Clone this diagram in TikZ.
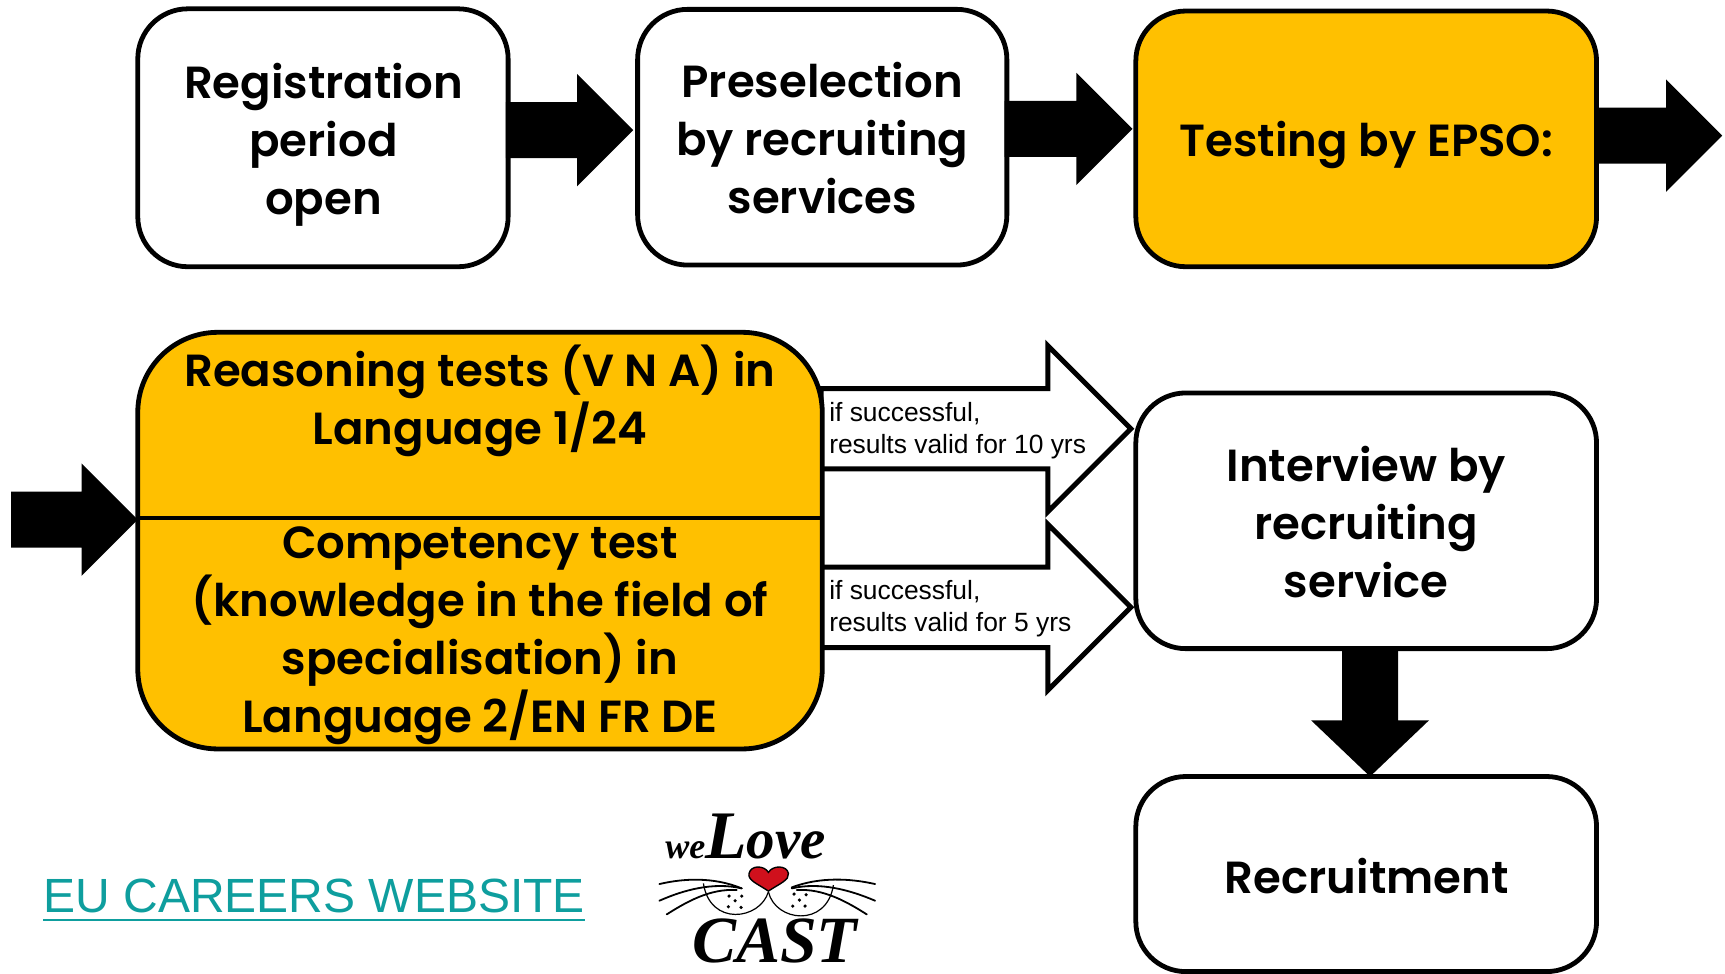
\documentclass[tikz,border=0pt]{standalone}
\usepackage{fontspec}
\usetikzlibrary{calc}
\setmainfont{Liberation Sans}
\newfontfamily\headfont{Poppins}[UprightFont=*-SemiBold,BoldFont=*-Bold]
\newfontfamily\logofont{Liberation Serif}
\definecolor{amber}{HTML}{FFC000}
\definecolor{linkteal}{HTML}{0E9E9E}
\definecolor{heartred}{HTML}{D0101C}
\tikzset{
  boxsize/.style 2 args={minimum width=#1*0.5511pt,minimum height=#2*0.5511pt},
  flowbox/.style={draw=black,line width=2.4pt,rounded corners=25pt,fill=white,inner sep=0pt,outer sep=0pt},
  ambbox/.style={flowbox,fill=amber},
  headtext/.style={font=\headfont\fontsize{22.5}{29}\selectfont,align=center,inner sep=0pt,text=black},
  smalltext/.style={font=\fontsize{13.2}{16}\selectfont,align=left,inner sep=0pt,anchor=west,text=black},
  solidarrow/.style={fill=black},
  hollowarrow/.style={draw=black,fill=white,line width=2.5pt,miter limit=10},
  whisker/.style={draw=black,line width=0.9pt,line cap=round},
  muzzle/.style={draw=black,line width=0.6pt},
  dotmark/.style={fill=black}
}
% style, start, tip, shaft half width, head half width, head length (pt)
\newcommand\rightblock[6]{\path[#1] let \p1=(#2),\p2=(#3) in
  (\x1,\y1+#4pt) -- (\x2-#6pt,\y1+#4pt) -- (\x2-#6pt,\y1+#5pt) -- (\x2,\y1) --
  (\x2-#6pt,\y1-#5pt) -- (\x2-#6pt,\y1-#4pt) -- (\x1,\y1-#4pt) -- cycle;}
\newcommand\downblock[6]{\path[#1] let \p1=(#2),\p2=(#3) in
  (\x1+#4pt,\y1) -- (\x1+#4pt,\y2+#6pt) -- (\x1+#5pt,\y2+#6pt) -- (\x1,\y2) --
  (\x1-#5pt,\y2+#6pt) -- (\x1-#4pt,\y2+#6pt) -- (\x1-#4pt,\y1) -- cycle;}
\begin{document}
\begin{tikzpicture}[x=0.5511pt,y=-0.5511pt]
\useasboundingbox[fill=white] (0,0) rectangle (1565.05,882.85);

% boxes
\node[flowbox,boxsize={336}{234}] (reg) at (293,125) {};
\node[flowbox,boxsize={335}{232}] (pre) at (746,124.5) {};
\node[ambbox,boxsize={418}{232}] (epso) at (1239.5,126) {};
\node[flowbox,boxsize={418}{232}] (int) at (1239.5,472.5) {};
\node[flowbox,boxsize={418}{177}] (rec) at (1239.5,793) {};

% hollow arrows
\coordinate (bigE) at (745,490.5);
\coordinate (tipA) at (1026,389);
\coordinate (tipB) at (1026,551);
\rightblock{hollowarrow}{bigE|-tipA}{tipA}{20.1}{41.5}{41.5}
\rightblock{hollowarrow}{bigE|-tipB}{tipB}{20.1}{41.5}{41.5}

% big two-part box
\node[ambbox,rounded corners=40pt,boxsize={621}{378}] (big) at (435.5,490.5) {};
\coordinate (div) at (436,470);
\draw[line width=2pt] (big.west|-div) -- (big.east|-div);

% solid arrows
\coordinate (inA) at ($(big.west)+(-115,-19)$);
\coordinate (outA) at ($(epso.east)+(114,-3)$);
\coordinate (regOut) at ($(reg.east)+(-2,-7)$);
\coordinate (preIn) at ($(pre.west)+(-4,-7)$);
\coordinate (preOut) at ($(pre.east)+(-2,-7.5)$);
\coordinate (epsoIn) at ($(epso.west)+(-3,-9)$);
\coordinate (intOut) at (int.south-|1243,0);
\coordinate (recIn) at (rec.north-|1243,0);
\rightblock{solidarrow}{regOut}{preIn}{14}{28.1}{28.1}
\rightblock{solidarrow}{preOut}{epsoIn}{14}{28.1}{28.1}
\rightblock{solidarrow}{epso.east|-outA}{outA}{14}{28.1}{28.1}
\rightblock{solidarrow}{inA}{big.west|-inA}{14}{28.1}{28.1}
\downblock{solidarrow}{intOut}{recIn}{14}{29.5}{28.1}

% labels
\node[headtext] (regT) at (293.5,131.5) {Registration\\period\\open};
\node[headtext] (preT) at (746,125.5) {Preselection\\by recruiting\\services};
\node[headtext] (epsoT) at (1239.5,132) {Testing by EPSO:};
\node[headtext] (bigT) at (435.5,364) {Reasoning tests (V N A) in\\Language 1/24};
\node[headtext] (bigB) at (435.5,576.5) {Competency test\\(knowledge in the field of\\specialisation) in\\Language 2/EN FR DE};
\node[headtext] (intT) at (1239.5,473.5) {Interview by\\recruiting\\service};
\node[headtext] (recT) at (1240,795) {Recruitment};
\node[smalltext] (noteA) at (752,390.5) {if successful,\\results valid for 10 yrs};
\node[smalltext] (noteB) at (752,552.5) {if successful,\\results valid for 5 yrs};
\node[inner sep=0pt,text=linkteal,font=\fontsize{24}{30}\selectfont] (link) at (285,813) {EU CAREERS WEBSITE};
\draw[linkteal,line width=1.2pt] ($(link.south west)+(0,6)$) -- ($(link.south east)+(0,6)$);

% logo, in the coordinates of a 3x crop
\begin{scope}[shift={(580.7,707.7)},x=0.1667pt,y=-0.1667pt]
  \node[inner sep=0pt,anchor=base west,font=\logofont\bfseries\itshape] (logoA) at (75,235)
    {{\fontsize{18}{20}\selectfont we}{\fontsize{34}{36}\selectfont L}{\fontsize{28.5}{30}\selectfont ove}};
  \node[inner sep=0pt,anchor=base west,font=\logofont\bfseries\itshape\fontsize{33}{36}\selectfont] (logoB) at (155,548)
    {CAST};
  \path[fill=heartred,draw=black,line width=0.7pt] (385,333)
    .. controls (350,310) and (322,300) .. (327,280)
    .. controls (332,255) and (372,255) .. (385,277)
    .. controls (398,255) and (440,255) .. (445,280)
    .. controls (448,300) and (420,310) .. (385,333) -- cycle;
  \draw[whisker] (305,325) .. controls (220,290) and (130,295) .. (58,312);
  \draw[whisker] (305,325) .. controls (220,305) and (130,330) .. (58,362);
  \draw[whisker] (290,330) .. controls (210,325) and (140,365) .. (80,403);
  \draw[whisker] (455,322) .. controls (540,290) and (630,295) .. (705,312);
  \draw[whisker] (455,325) .. controls (540,305) and (630,330) .. (705,362);
  \draw[whisker] (470,330) .. controls (550,325) and (620,365) .. (680,403);
  \draw[muzzle] (385,335) .. controls (360,420) and (210,440) .. (190,310);
  \draw[muzzle] (385,335) .. controls (405,425) and (560,445) .. (580,315);
  \foreach \dx/\dy in {267/348,305/348,285/362,265/380,303/382,462/342,498/344,478/360,458/378,495/378}
    \fill[dotmark] (\dx,\dy) circle (0.9pt);
\end{scope}
\end{tikzpicture}
\end{document}
